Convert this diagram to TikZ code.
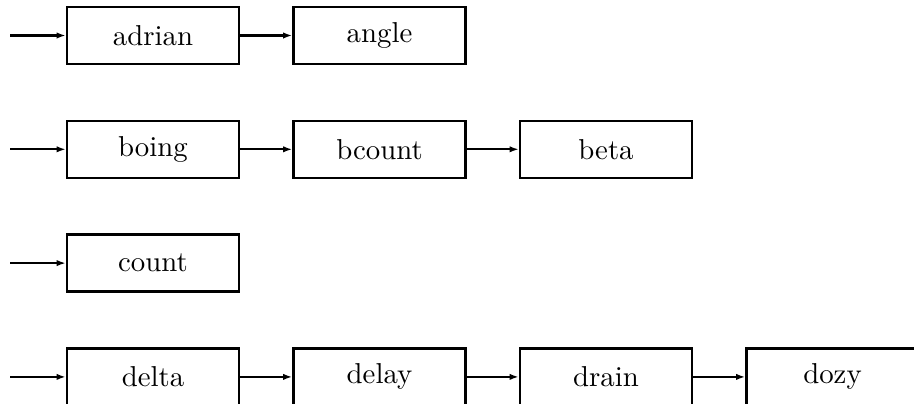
\documentclass[tikz,border=0pt]{standalone}
\usetikzlibrary{arrows.meta}
\tikzset{fn/.style={draw, rectangle, thick, minimum width=59.7pt, minimum height=19.8pt, inner sep=0pt}}
\begin{document}
\begin{tikzpicture}[x=0.3472pt, y=0.3472pt, >={Latex[length=3.2pt, width=2.2pt]}]
\def \n {113.8}
\def \s {226.5}
\def \cx {153}
\def \cy {35.5}
\useasboundingbox (0,0) rectangle (914,-403);
% row a
\coordinate (ina) at (10, -\cy);
\node[fn] at (\cx, -\cy) (adrian) {adrian};
\node[fn] at (\cx+\s, -\cy) (angle) {angle};
\draw[->, thick] (ina) -- (adrian);
\draw[->, thick] (adrian) -- (angle);
% row b
\coordinate (inb) at (10, -\cy-\n);
\node[fn] at (\cx, -\cy-\n) (boing) {boing};
\node[fn] at (\cx+\s, -\cy-\n) (bcount) {bcount};
\node[fn] at (\cx+2*\s, -\cy-\n) (beta) {beta};
\draw[->, thick] (inb) -- (boing);
\draw[->, thick] (boing) -- (bcount);
\draw[->, thick] (bcount) -- (beta);
% row c
\coordinate (inc) at (10, -\cy-2*\n);
\node[fn] at (\cx, -\cy-2*\n) (count) {count};
\draw[->, thick] (inc) -- (count);
% row d
\coordinate (ind) at (10, -\cy-3*\n);
\node[fn] at (\cx, -\cy-3*\n) (delta) {delta};
\node[fn] at (\cx+\s, -\cy-3*\n) (delay) {delay};
\node[fn] at (\cx+2*\s, -\cy-3*\n) (drain) {drain};
\node[fn] at (\cx+3*\s, -\cy-3*\n) (dozy) {dozy};
\draw[->, thick] (ind) -- (delta);
\draw[->, thick] (delta) -- (delay);
\draw[->, thick] (delay) -- (drain);
\draw[->, thick] (drain) -- (dozy);
\end{tikzpicture}
\end{document}
